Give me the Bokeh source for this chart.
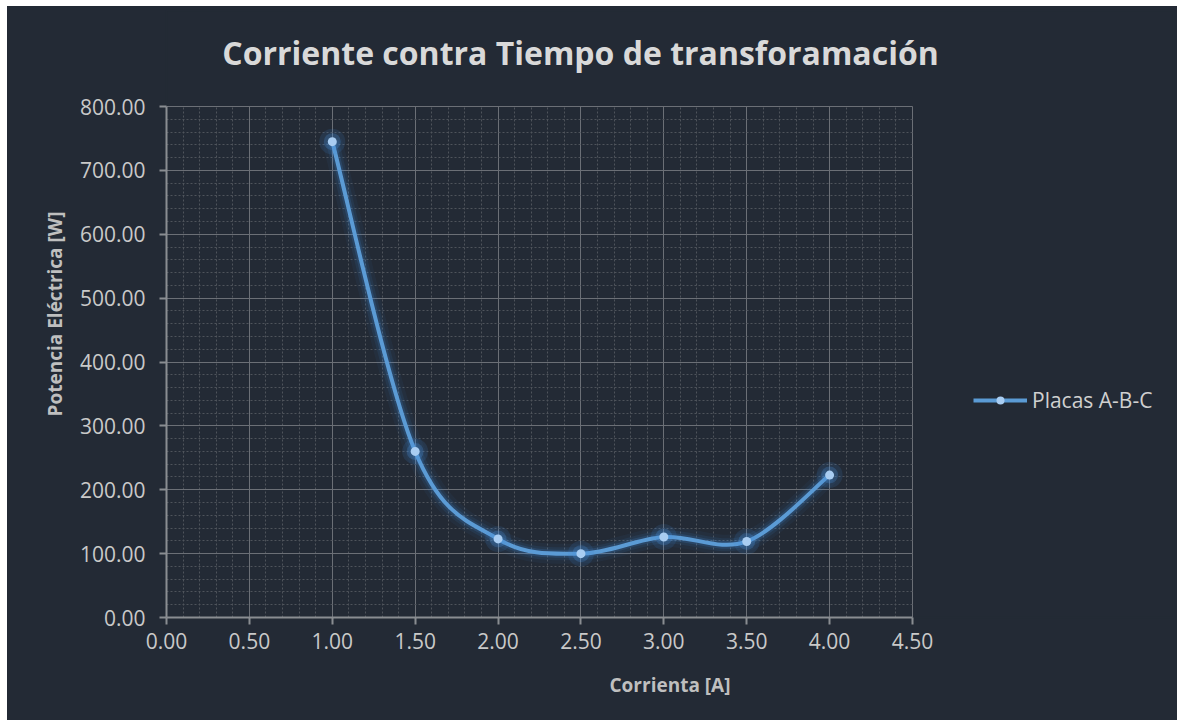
import math
from bokeh.plotting import figure
from bokeh.models import (Range1d, SingleIntervalTicker, NumeralTickFormatter, Label,
                          Legend, LegendItem, ColumnDataSource)
from bokeh.embed import file_html
from bokeh.resources import INLINE

# ---- data ----
corriente = [1.0, 1.5, 2.0, 2.5, 3.0, 3.5, 4.0]
potencia = [745.0, 260.0, 123.0, 100.0, 126.0, 119.0, 223.0]
x_ticks_end = 4.5
y_ticks_end = 800.0
series_name = "Placas A-B-C"
title_text = "Corriente contra Tiempo de transforamación"
x_label = "Corrienta [A]"
y_label = "Potencia Eléctrica [W]"

BG = "#232a35"
FONT = "Open Sans"

# ---- layout (pixels inside the canvas) ----
W, H = 1170, 714
AX_L, AX_R, AX_T, AX_B = 159, 905, 100, 611     # visible axes box
FR_T, FR_R = 4, W - 4                           # frame extends to the canvas edges (invisible)
xr_end = x_ticks_end * (FR_R - AX_L) / (AX_R - AX_L)
yr_end = y_ticks_end * (AX_B - FR_T) / (AX_B - AX_T)
px_x = x_ticks_end / (AX_R - AX_L)
px_y = y_ticks_end / (AX_B - AX_T)

# smoothed (Catmull-Rom -> cubic Bezier) segments, like a spreadsheet "smooth line"
n = len(corriente)
seg = dict(x0=[], y0=[], x1=[], y1=[], cx0=[], cy0=[], cx1=[], cy1=[])
for i in range(n - 1):
    p0 = (corriente[max(i - 1, 0)], potencia[max(i - 1, 0)])
    p1 = (corriente[i], potencia[i])
    p2 = (corriente[i + 1], potencia[i + 1])
    p3 = (corriente[min(i + 2, n - 1)], potencia[min(i + 2, n - 1)])
    seg["x0"].append(p1[0]); seg["y0"].append(p1[1])
    seg["x1"].append(p2[0]); seg["y1"].append(p2[1])
    seg["cx0"].append(p1[0] + (p2[0] - p0[0]) / 6.0)
    seg["cy0"].append(p1[1] + (p2[1] - p0[1]) / 6.0)
    seg["cx1"].append(p2[0] - (p3[0] - p1[0]) / 6.0)
    seg["cy1"].append(p2[1] - (p3[1] - p1[1]) / 6.0)
seg_src = ColumnDataSource(seg)
pts_src = ColumnDataSource(dict(x=corriente, y=potencia))

p = figure(width=W, height=H, output_backend="svg", toolbar_location=None, title=None,
           x_range=Range1d(0, xr_end), y_range=Range1d(0, yr_end),
           min_border_left=AX_L, min_border_right=W - FR_R, min_border_top=FR_T,
           min_border_bottom=H - AX_B, margin=(6, 0, 0, 7))
p.background_fill_color = BG
p.border_fill_color = BG
p.outline_line_color = BG
p.outline_line_width = 2
p.styles = {"background-color": BG}

# grids
p.xaxis.ticker = SingleIntervalTicker(interval=0.5, num_minor_ticks=5)
p.yaxis.ticker = SingleIntervalTicker(interval=100, num_minor_ticks=5)
p.xaxis.bounds = (0, x_ticks_end)
p.yaxis.bounds = (0, y_ticks_end)
xg, yg = p.xgrid[0], p.ygrid[0]
xg.bounds = (0, x_ticks_end)
yg.bounds = (0, y_ticks_end)
has_cross = "cross_bounds" in xg.properties()
if has_cross:
    xg.cross_bounds = (0, y_ticks_end)
    yg.cross_bounds = (0, x_ticks_end)
for g in (xg, yg):
    g.grid_line_color = "#6b6f76"
    g.grid_line_width = 1
    g.minor_grid_line_color = "#4e535b"
    g.minor_grid_line_dash = "2 2"
    g.minor_grid_line_width = 1
if not has_cross:
    xg.visible = False
    yg.visible = False
    xs = [i * 0.1 for i in range(46)]
    ys = [i * 20.0 for i in range(41)]
    mx = [v for i, v in enumerate(xs) if i % 5]
    my = [v for i, v in enumerate(ys) if i % 5]
    p.segment(x0=mx, x1=mx, y0=0, y1=y_ticks_end, line_color="#4e535b", line_dash="2 2")
    p.segment(x0=0, x1=x_ticks_end, y0=my, y1=my, line_color="#4e535b", line_dash="2 2")
    Mx = [v for i, v in enumerate(xs) if i % 5 == 0]
    My = [v for i, v in enumerate(ys) if i % 5 == 0]
    p.segment(x0=Mx, x1=Mx, y0=0, y1=y_ticks_end, line_color="#6b6f76")
    p.segment(x0=0, x1=x_ticks_end, y0=My, y1=My, line_color="#6b6f76")

# axes
for ax in (p.xaxis, p.yaxis):
    ax.formatter = NumeralTickFormatter(format="0.00")
    ax.axis_line_color = "#8a8d92"
    ax.axis_line_width = 2
    ax.major_tick_line_color = "#8a8d92"
    ax.major_tick_line_width = 2
    ax.major_tick_out = 7
    ax.major_tick_in = 0
    ax.minor_tick_line_color = None
    ax.major_label_text_font = FONT
    ax.major_label_text_font_size = "21px"
    ax.major_label_text_color = "#c9c9c9"
    ax.axis_label_text_font = FONT
    ax.axis_label_text_font_size = "19px"
    ax.axis_label_text_font_style = "bold"
    ax.axis_label_text_color = "#bfbfbf"
p.xaxis.axis_label = x_label
p.yaxis.axis_label = y_label
p.xaxis.major_label_standoff = 8
p.yaxis.major_label_standoff = 14
p.xaxis.axis_label_standoff = 20
p.yaxis.axis_label_standoff = 9

# glow layers
LINE = "#5b9bd5"
for w, a in ((20, 0.06), (13, 0.10), (8, 0.18)):
    p.bezier(x0="x0", y0="y0", x1="x1", y1="y1", cx0="cx0", cy0="cy0", cx1="cx1", cy1="cy1",
             source=seg_src, line_color="#3f8ad8", line_width=w, line_alpha=a)
p.bezier(x0="x0", y0="y0", x1="x1", y1="y1", cx0="cx0", cy0="cy0", cx1="cx1", cy1="cy1",
         source=seg_src, line_color=LINE, line_width=4)
p.scatter(x="x", y="y", source=pts_src, size=26, fill_color="#3f8ad8", fill_alpha=0.14, line_color=None)
p.scatter(x="x", y="y", source=pts_src, size=17, fill_color="#4a95e0", fill_alpha=0.25, line_color=None)
mk = p.scatter(x="x", y="y", source=pts_src, size=9, fill_color="#a9cdf2", line_color=None)

leg_line = p.line(x=[math.nan], y=[math.nan], line_color=LINE, line_width=4)
legend = Legend(items=[LegendItem(label=series_name, renderers=[leg_line, mk])],
                location=(807, 203), orientation="vertical",
                background_fill_alpha=0, border_line_color=None,
                padding=0, margin=0, glyph_width=54, glyph_height=20, label_standoff=5,
                label_text_font=FONT, label_text_font_size="21px", label_text_color="#d0d0d0")
p.add_layout(legend, "center")

# title: centred at canvas pixel (573, 46)
title = Label(x=(573 - AX_L) * px_x, y=(AX_B - 46) * px_y, text=title_text,
              text_align="center", text_baseline="middle", text_font=FONT,
              text_font_size="32px", text_font_style="bold", text_color="#d9d9d9")
p.add_layout(title)

open("out.html", "w").write(file_html(p, INLINE))
